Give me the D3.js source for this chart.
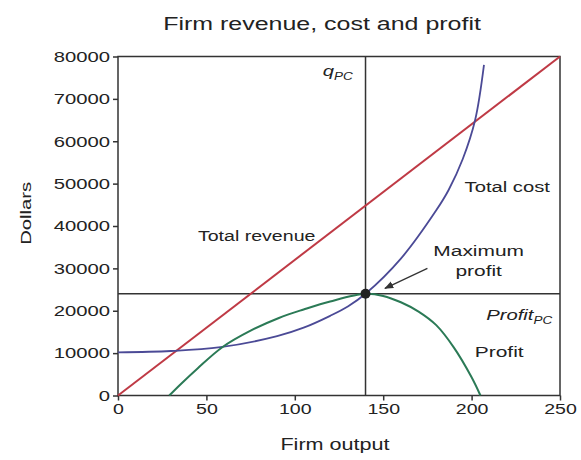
<!doctype html>
<html>
<head>
    <title>Firm revenue, cost and profit</title>
    <style>
        body { margin: 0; background: #fff; }
        text { font-family: "Liberation Sans", Arial, sans-serif; fill: #222; }
    </style>
</head>
<body>
    <div id="my_dataviz"></div>

    <script src="https://d3js.org/d3.v7.min.js"></script>
    <script>
        // values (firm output, dollars)
        var revenueQ = [0, 250];
        var revenueV = [0, 80000];

        var costQ = [0, 30, 58, 90, 105, 120, 130, 140, 160, 180, 187, 195, 202, 207];
        var costV = [10200, 10500, 11400, 14000, 16000, 18800, 21000, 24000, 32300, 43700, 48500, 55800, 65000, 78000];

        var profitQ = [29, 35, 45, 59, 75, 91, 105, 120, 140, 150, 160, 170, 180, 190, 200, 205];
        var profitV = [0, 2500, 6400, 11400, 15300, 18300, 20300, 22200, 24000, 23500, 22000, 19800, 16600, 11300, 4300, 0];

        var qPC = 140;
        var profitPC = 24000;

        var xTicks = [0, 50, 100, 150, 200, 250];
        var yTicks = [0, 10000, 20000, 30000, 40000, 50000, 60000, 70000, 80000];

        // the original is stretched sideways, so text is too
        var sx = 1.35;

        var margin = {top: 56.5, right: 21, bottom: 64.5, left: 118},
            width = 581 - margin.left - margin.right,
            height = 460 - margin.top - margin.bottom;

        var root = d3.select("#my_dataviz")
            .append("svg")
            .attr("width", 581)
            .attr("height", 460);

        var svg = root.append("g")
            .attr("transform", "translate(" + margin.left + "," + margin.top + ")");

        var x = d3.scaleLinear().domain([0, 250]).range([0, width]);
        var y = d3.scaleLinear().domain([0, 80000]).range([height, 0]);

        function zip(qs, vs) {
            return qs.map(function (q, i) { return [q, vs[i]]; });
        }

        // stretched text helper
        function label(g, px, py, size, anchor) {
            return g.append("text")
                .attr("transform", "translate(" + px + "," + py + ") scale(" + sx + ",1)")
                .attr("text-anchor", anchor || "start")
                .style("font-size", size + "px");
        }

        // title
        label(root, 322, 30, 18.5, "middle").text("Firm revenue, cost and profit");

        // X axis
        var xAxis = svg.append("g")
            .attr("transform", "translate(0," + height + ")")
            .call(d3.axisBottom(x).tickValues(xTicks).tickSize(5).tickSizeOuter(0).tickPadding(3));
        xAxis.select(".domain").remove();
        xAxis.selectAll(".tick line").attr("stroke", "#333").attr("stroke-width", 1.5);
        xAxis.selectAll(".tick text")
            .attr("transform", "scale(" + sx + ",1)")
            .style("font-size", "14.5px")
            .style("font-family", "Liberation Sans, Arial, sans-serif")
            .attr("fill", "#333");

        // Y axis
        var yAxis = svg.append("g")
            .call(d3.axisLeft(y).tickValues(yTicks).tickFormat(d3.format("d")).tickSize(5).tickSizeOuter(0));
        yAxis.select(".domain").remove();
        yAxis.selectAll(".tick line").attr("stroke", "#333").attr("stroke-width", 1.5);
        yAxis.selectAll(".tick text")
            .attr("x", 0)
            .attr("transform", "translate(-8,0) scale(" + sx + ",1)")
            .style("font-size", "15px")
            .style("font-family", "Liberation Sans, Arial, sans-serif")
            .attr("fill", "#333");

        // axis titles
        label(root, margin.left + x(125) - 4, 450, 16, "middle").text("Firm output");
        root.append("text")
            .attr("transform", "translate(31," + (margin.top + y(43000)) + ") rotate(-90) scale(" + sx + ",1)")
            .attr("text-anchor", "middle")
            .style("font-size", "15px")
            .text("Dollars");

        // frame
        svg.append("rect")
            .attr("width", width)
            .attr("height", height)
            .attr("fill", "none")
            .attr("stroke", "#333")
            .attr("stroke-width", 1.5);

        // q_PC and Profit_PC guide lines
        svg.append("line")
            .attr("x1", x(qPC)).attr("x2", x(qPC))
            .attr("y1", y(80000)).attr("y2", y(0))
            .attr("stroke", "#333").attr("stroke-width", 1.5);
        svg.append("line")
            .attr("x1", x(0)).attr("x2", x(250))
            .attr("y1", y(profitPC)).attr("y2", y(profitPC))
            .attr("stroke", "#333").attr("stroke-width", 1.5);

        // curves
        var line = d3.line()
            .x(function (d) { return x(d[0]); })
            .y(function (d) { return y(d[1]); })
            .curve(d3.curveCatmullRom.alpha(0.5));

        svg.append("path")
            .datum(zip(revenueQ, revenueV))
            .attr("d", line)
            .attr("fill", "none").attr("stroke", "#bf3a45").attr("stroke-width", 2);

        svg.append("path")
            .datum(zip(costQ, costV))
            .attr("d", line)
            .attr("fill", "none").attr("stroke", "#4b4a96").attr("stroke-width", 1.8);

        svg.append("path")
            .datum(zip(profitQ, profitV))
            .attr("d", line)
            .attr("fill", "none").attr("stroke", "#2b7a56").attr("stroke-width", 2);

        // maximum profit point
        svg.append("circle")
            .attr("cx", x(qPC))
            .attr("cy", y(profitPC))
            .attr("r", 5)
            .attr("fill", "#222");

        // arrow
        root.append("defs").append("marker")
            .attr("id", "head")
            .attr("viewBox", "0 0 10 10")
            .attr("refX", 9).attr("refY", 5)
            .attr("markerWidth", 7).attr("markerHeight", 7)
            .attr("orient", "auto")
            .append("path")
            .attr("d", "M0,1 L10,5 L0,9 z")
            .attr("fill", "#333");
        svg.append("line")
            .attr("x1", x(175)).attr("y1", y(30000))
            .attr("x2", x(151)).attr("y2", y(25300))
            .attr("stroke", "#333").attr("stroke-width", 1.3)
            .attr("marker-end", "url(#head)");

        // curve labels
        label(svg, x(45.2), y(36440), 14.5).text("Total revenue");
        label(svg, x(196), y(48000), 15).text("Total cost");
        label(svg, x(204), y(32900), 15.5, "middle").text("Maximum");
        label(svg, x(204), y(28100), 15.5, "middle").text("profit");
        label(svg, x(201.8), y(9080), 15.5).text("Profit");

        var pp = label(svg, x(208.3), y(17800), 15).style("font-style", "italic");
        pp.append("tspan").text("Profit");
        pp.append("tspan").attr("dy", 4).style("font-size", "10px").text("PC");

        var qq = label(svg, x(115.8), y(75350), 15).style("font-style", "italic");
        qq.append("tspan").text("q");
        qq.append("tspan").attr("dy", 4).style("font-size", "10px").text("PC");
    </script>
</body>
</html>
